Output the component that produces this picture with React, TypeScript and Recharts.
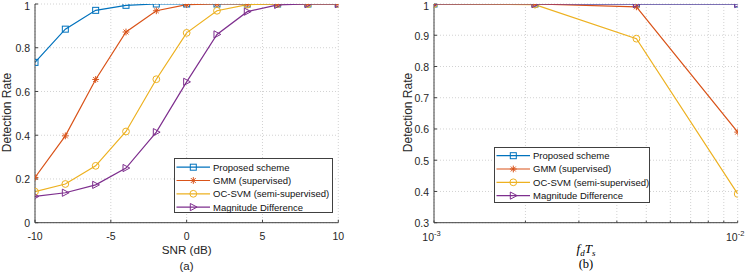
import React from 'react';
import { LineChart, Line, XAxis, YAxis, CartesianGrid } from 'recharts';

// ---------- data ----------
const snrDb = [-10, -8, -6, -4, -2, 0, 2, 4, 6, 8, 10];
const proposedA = [0.733, 0.885, 0.971, 0.994, 1, 1, 1, 1, 1, 1, 1];
const gmmA = [0.207, 0.397, 0.655, 0.872, 0.969, 0.997, 1, 1, 1, 1, 1];
const ocsvmA = [0.142, 0.177, 0.26, 0.417, 0.656, 0.868, 0.969, 0.997, 1, 1, 1];
const magA = [0.12, 0.137, 0.173, 0.25, 0.414, 0.644, 0.861, 0.965, 0.996, 1, 1];

const fdTs = [0.001, 0.00215, 0.00464, 0.01];
const proposedB = [1, 1, 1, 1];
const gmmB = [1, 1, 0.991, 0.59];
const ocsvmB = [1, 0.998, 0.889, 0.392];
const magB = [1, 1, 1, 1];

const xTicksA = [-10, -5, 0, 5, 10];
const yTicksA = [0, 0.2, 0.4, 0.6, 0.8, 1];
const xTicksB = [0.001, 0.002, 0.003, 0.004, 0.005, 0.006, 0.007, 0.008, 0.009, 0.01];
const yTicksB = [0.3, 0.4, 0.5, 0.6, 0.7, 0.8, 0.9, 1];

const seriesNames = ['Proposed scheme', 'GMM (supervised)', 'OC-SVM (semi-supervised)', 'Magnitude Difference'];
const seriesKeys = ['p', 'g', 'o', 'm'];
const seriesColors = ['#0072BD', '#D95319', '#EDB120', '#7E2F8E'];
const seriesMarkers = ['square', 'star', 'circle', 'tri'];

const dataA = snrDb.map((x, i) => ({ x, p: proposedA[i], g: gmmA[i], o: ocsvmA[i], m: magA[i] }));
const dataB = fdTs.map((x, i) => ({ x, p: proposedB[i], g: gmmB[i], o: ocsvmB[i], m: magB[i] }));

// ---------- styles ----------
const AX = '#404040';
const TXT = '#262626';
const FONT = '"Liberation Sans", Arial, Helvetica, sans-serif';
const SERIF = '"Liberation Serif", "DejaVu Serif", serif';
const GRID = '#d2d2d2';

function Marker({ kind, cx, cy, color }: any) {
  if (kind === 'square') {
    return <rect x={cx - 3} y={cy - 3} width={6} height={6} fill="none" stroke={color} strokeWidth={1} />;
  }
  if (kind === 'star') {
    const r = 3.4;
    const d = r * 0.72;
    return (
      <g stroke={color} strokeWidth={1}>
        <line x1={cx - r} y1={cy} x2={cx + r} y2={cy} />
        <line x1={cx} y1={cy - r} x2={cx} y2={cy + r} />
        <line x1={cx - d} y1={cy - d} x2={cx + d} y2={cy + d} />
        <line x1={cx - d} y1={cy + d} x2={cx + d} y2={cy - d} />
      </g>
    );
  }
  if (kind === 'circle') {
    return <circle cx={cx} cy={cy} r={3.4} fill="none" stroke={color} strokeWidth={1} />;
  }
  return (
    <polygon
      points={`${cx - 3},${cy - 3.6} ${cx + 3.8},${cy} ${cx - 3},${cy + 3.6}`}
      fill="none"
      stroke={color}
      strokeWidth={1}
    />
  );
}

const dotFn = (kind: string, color: string) => (props: any) => {
  const { cx, cy, index } = props;
  if (cx == null || cy == null) return <g key={`e${index}`} />;
  return (
    <g key={`d${index}`}>
      <Marker kind={kind} cx={cx} cy={cy} color={color} />
    </g>
  );
};

const BottomTickA = (props: any) => {
  const { x, y, payload } = props;
  return (
    <text x={x} y={y + 17} textAnchor="middle" fontFamily={FONT} fontSize={10.5} fill={TXT}>
      {String(payload.value)}
    </text>
  );
};

const LeftTick = (props: any) => {
  const { x, y, payload } = props;
  return (
    <text x={x - 5} y={Math.max(y + 4.3, 9.8)} textAnchor="end" fontFamily={FONT} fontSize={10.5} fill={TXT}>
      {String(payload.value)}
    </text>
  );
};

const BottomTickB = (props: any) => {
  const { x, y, payload } = props;
  const lg = Math.log10(payload.value);
  const e = Math.round(lg);
  if (Math.abs(lg - e) > 1e-6) return <g />;
  return (
    <g>
      <text x={x} y={y + 18.5} textAnchor="end" fontFamily={FONT} fontSize={10.5} fill={TXT}>
        10
      </text>
      <text x={x} y={y + 13} textAnchor="start" fontFamily={FONT} fontSize={7.5} fill={TXT}>
        {String(e)}
      </text>
    </g>
  );
};

function renderLines() {
  return seriesKeys.map((k, i) => (
    <Line
      key={k}
      type="linear"
      dataKey={k}
      stroke={seriesColors[i]}
      strokeWidth={1.2}
      dot={dotFn(seriesMarkers[i], seriesColors[i])}
      activeDot={false}
      isAnimationActive={false}
    />
  ));
}

function LegendBox({ left, top, width, height, rowYs }: any) {
  return (
    <div
      style={{
        position: 'absolute',
        left,
        top,
        width,
        height,
        background: '#fff',
        border: `1px solid ${AX}`,
        boxSizing: 'border-box',
      }}
    >
      <svg width={width} height={height} style={{ position: 'absolute', left: -1, top: -1 }}>
        {seriesNames.map((n, i) => (
          <g key={n}>
            <line x1={2.5} y1={rowYs[i]} x2={36} y2={rowYs[i]} stroke={seriesColors[i]} strokeWidth={1.2} />
            <Marker kind={seriesMarkers[i]} cx={19.3} cy={rowYs[i]} color={seriesColors[i]} />
            <text x={39} y={rowYs[i] + 3.4} fontFamily={FONT} fontSize={9.5} fill="#111">
              {n}
            </text>
          </g>
        ))}
      </svg>
    </div>
  );
}

export default function App() {
  return (
    <div style={{ position: 'absolute', left: 0, top: 0, width: 747, height: 274, background: '#fff', overflow: 'hidden' }}>
      {/* (a) */}
      <div style={{ position: 'absolute', left: 0, top: 0 }}>
        <LineChart width={350} height={274} data={dataA} margin={{ top: 4, right: 11.7, bottom: 21.3, left: 0 }}>
          <CartesianGrid stroke={GRID} strokeDasharray="1 2" />
          <XAxis
            dataKey="x"
            type="number"
            domain={[-10, 10]}
            ticks={xTicksA}
            interval={0}
            height={30}
            tickSize={-3}
            tickMargin={3}
            tick={BottomTickA}
            stroke={AX}
            allowDataOverflow
          />
          <XAxis
            xAxisId="top"
            orientation="top"
            dataKey="x"
            type="number"
            domain={[-10, 10]}
            ticks={xTicksA}
            interval={0}
            height={0}
            tickSize={-3}
            tick={false}
            stroke={AX}
            allowDataOverflow
          />
          <YAxis
            type="number"
            domain={[0, 1]}
            ticks={yTicksA}
            interval={0}
            width={35}
            tickSize={-3}
            tickMargin={3}
            tick={LeftTick}
            stroke={AX}
            allowDataOverflow
          />
          <YAxis
            yAxisId="right"
            orientation="right"
            type="number"
            domain={[0, 1]}
            ticks={yTicksA}
            interval={0}
            width={0}
            tickSize={-3}
            tick={false}
            stroke={AX}
            allowDataOverflow
          />
          {renderLines()}
        </LineChart>
      </div>

      {/* (b) */}
      <div style={{ position: 'absolute', left: 390, top: 0 }}>
        <LineChart width={357} height={274} data={dataB} margin={{ top: 4, right: 9.3, bottom: 21.3, left: 0 }}>
          <CartesianGrid stroke={GRID} strokeDasharray="1 2" />
          <XAxis
            dataKey="x"
            type="number"
            scale="log"
            domain={[0.001, 0.01]}
            ticks={xTicksB}
            interval={0}
            height={30}
            tickSize={-2}
            tickMargin={2}
            tick={BottomTickB}
            stroke={AX}
            allowDataOverflow
          />
          <XAxis
            xAxisId="top"
            orientation="top"
            dataKey="x"
            type="number"
            scale="log"
            domain={[0.001, 0.01]}
            ticks={xTicksB}
            interval={0}
            height={0}
            tickSize={-2}
            tick={false}
            stroke={AX}
            allowDataOverflow
          />
          <YAxis
            type="number"
            domain={[0.3, 1]}
            ticks={yTicksB}
            interval={0}
            width={44}
            tickSize={-3}
            tickMargin={3}
            tick={LeftTick}
            stroke={AX}
            allowDataOverflow
          />
          <YAxis
            yAxisId="right"
            orientation="right"
            type="number"
            domain={[0.3, 1]}
            ticks={yTicksB}
            interval={0}
            width={0}
            tickSize={-3}
            tick={false}
            stroke={AX}
            allowDataOverflow
          />
          {renderLines()}
        </LineChart>
      </div>

      <LegendBox left={174} top={158} width={159} height={55} rowYs={[9.2, 22.5, 35.8, 49.1]} />
      <LegendBox left={494} top={147} width={156} height={56} rowYs={[8.7, 22, 35.3, 48.6]} />

      {/* titles */}
      <svg width={747} height={274} style={{ position: 'absolute', left: 0, top: 0, pointerEvents: 'none' }}>
        <text
          x={0}
          y={0}
          transform="translate(10.5,112.5) rotate(-90)"
          textAnchor="middle"
          fontFamily={FONT}
          fontSize={12}
          fill={TXT}
        >
          Detection Rate
        </text>
        <text x={186.7} y={254} textAnchor="middle" fontFamily={FONT} fontSize={11.7} fill={TXT}>
          SNR (dB)
        </text>
        <text x={186.5} y={270} textAnchor="middle" fontFamily={FONT} fontSize={11.5} fill={TXT}>
          (a)
        </text>

        <text
          x={0}
          y={0}
          transform="translate(411.5,112.5) rotate(-90)"
          textAnchor="middle"
          fontFamily={FONT}
          fontSize={12}
          fill={TXT}
        >
          Detection Rate
        </text>
        <text x={586} y={253} textAnchor="middle" fontFamily={SERIF} fontSize={13} fill="#000">
          <tspan fontStyle="italic">f</tspan>
          <tspan fontStyle="italic" fontSize={9} dy={2.5}>d</tspan>
          <tspan fontStyle="italic" dy={-2.5}>T</tspan>
          <tspan fontStyle="italic" fontSize={9} dy={2.5}>s</tspan>
        </text>
        <text x={586} y={268} textAnchor="middle" fontFamily={SERIF} fontSize={12.5} fill="#000">
          (b)
        </text>
      </svg>
    </div>
  );
}
